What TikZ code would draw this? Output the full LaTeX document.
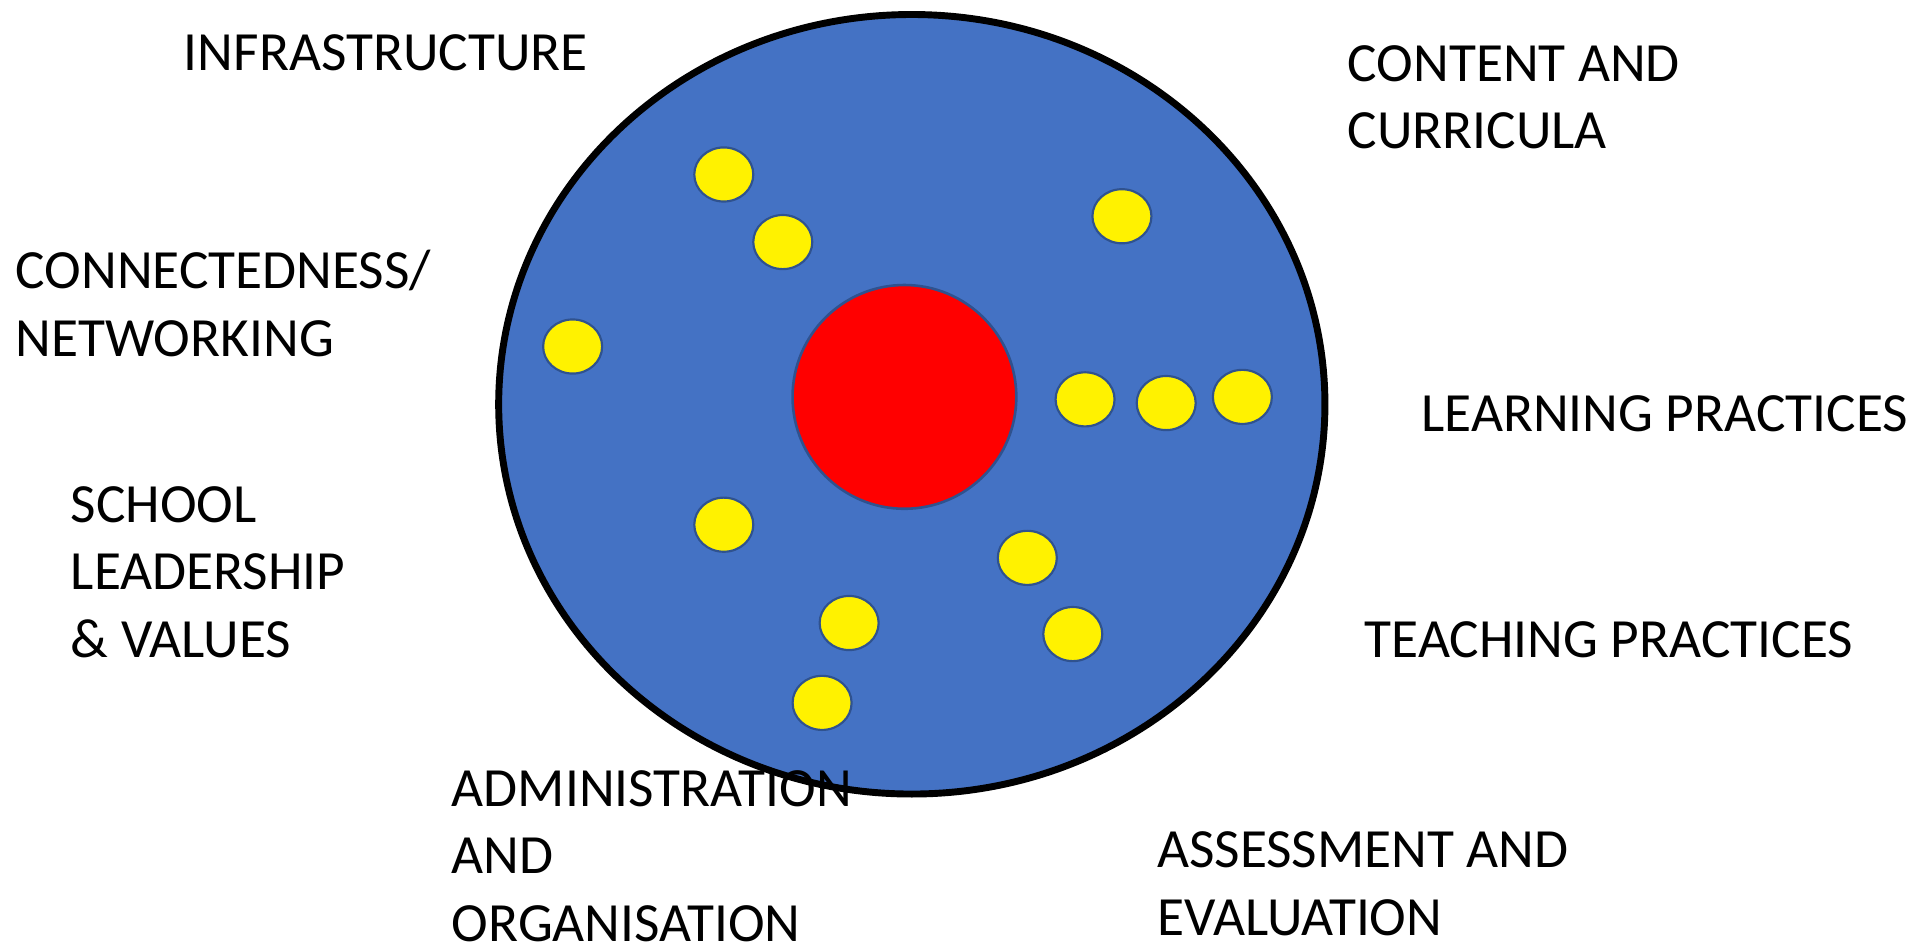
\documentclass[tikz,border=0pt]{standalone}
\usepackage{fontspec}
\setmainfont{Carlito}
\usepackage{xcolor}
\usetikzlibrary{shapes.geometric, positioning}
\definecolor{discblue}{RGB}{68,114,196}
\definecolor{rimblue}{RGB}{47,82,143}

\begin{document}
\begin{tikzpicture}[x=0.01cm, y=-0.01cm,
  bead/.style={ellipse, draw=rimblue, line width=0.5pt, fill=yellow,
    minimum width=0.48cm, minimum height=0.44cm, inner sep=0pt},
  theme/.style={anchor=base west, align=left, inner sep=0pt,
    font=\fontsize{12.8}{15.65}\selectfont}]
  \useasboundingbox (0,0) rectangle (1560,768);
  \node[ellipse, draw=black, line width=1.6pt, fill=discblue,
    minimum width=6.72cm, minimum height=6.34cm, inner sep=0pt] (disc) at (742,329) {};
  \node[circle, draw=rimblue, line width=0.6pt, fill=red,
    minimum size=1.82cm, inner sep=0pt] (core) at (736,323) {};
  \foreach \n/\x/\y in {1/589/142, 2/637/197, 3/913/176, 4/466/282,
      5/883/325, 6/949/328, 7/1011/323, 8/589/427, 9/836/454,
      10/691/507, 11/873/516, 12/669/572}
    \node[bead] (b\n) at (\x,\y) {};
  % labels sit on the baseline of their last line
  \node[theme] (infra) at (149,57) {INFRASTRUCTURE};
  \node[theme] (content) at (1096,121) {CONTENT AND\\CURRICULA};
  \node[theme] (connect) at (12,290) {CONNECTEDNESS/\\NETWORKING};
  \node[theme] (learning) at (1156,351) {LEARNING PRACTICES};
  \node[theme] (school) at (57,535) {SCHOOL\\LEADERSHIP\\\& VALUES};
  \node[theme] (teaching) at (1110,535) {TEACHING PRACTICES};
  \node[theme] (admin) at (367,766) {ADMINISTRATION\\AND\\ORGANISATION};
  \node[theme] (assess) at (941,761) {ASSESSMENT AND\\EVALUATION};
\end{tikzpicture}
\end{document}
